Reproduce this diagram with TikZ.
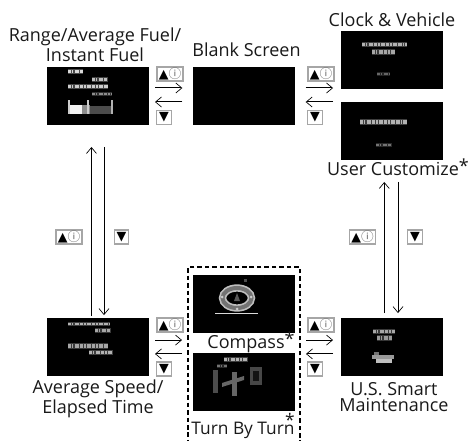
\documentclass[tikz,border=0pt]{standalone}
\usepackage{fontspec}
\usepackage{tikz}
\usetikzlibrary{arrows.meta}
\setmainfont{Open Sans}
\newfontfamily\symfont{DejaVu Sans}
\newfontfamily\infofont{Noto Sans CJK JP}
\tikzset{
  screen/.style={fill=black, minimum width=76.5pt, minimum height=43.5pt, inner sep=0pt, outer sep=0pt},
  caption/.style={font=\fontsize{13.5}{15}\selectfont, align=center, inner sep=0pt, text=black!90},
  keybox/.style={draw=black!35, line width=0.8pt, fill=white, inner sep=0pt, minimum height=10.5pt, font=\symfont\fontsize{9.5}{10}\selectfont},
  upkey/.style={keybox, minimum width=19.5pt},
  downkey/.style={keybox, minimum width=11pt},
  flow/.style={line width=0.75pt, -{Straight Barb[length=4.5pt,width=7.5pt,line width=0.5pt]}},
  flowdash/.style={draw, line width=1.2pt, dash pattern=on 3.4pt off 2.2pt, minimum width=84pt, minimum height=133.5pt, inner sep=0pt, outer sep=0pt}
}
\newcommand{\blips}[1]{\foreach \bx/\by/\bw/\bh/\bg in {#1} {
  \draw[white!\bg!black, opacity=0.35, line width=\bh*0.75pt+0.9pt] (\bx,\by+\bh/2) -- ++(\bw,0);
  \draw[white!\bg!black, line width=\bh*0.75pt, dash pattern=on 2.4pt off 0.7pt on 1pt off 1pt on 3.2pt off 0.8pt] (\bx,\by+\bh/2) -- ++(\bw,0);
}}
\newcommand{\bars}[1]{\foreach \bx/\by/\bw/\bh/\bg in {#1} \fill[white!\bg!black] (\bx,\by) rectangle ++(\bw,\bh);}
\newcommand{\upglyphs}{▲{\infofont\color{black!60}ⓘ}}
\begin{document}
\begin{tikzpicture}[x=0.75pt, y=-0.75pt]
\useasboundingbox (0,0) rectangle (470,441);

\foreach \name/\sx/\sy in {range/98/96, blank/244/96, clock/392/60, user/392/131, avgspeed/98/347, compass/244/304, turn/244/382, smart/392/347}
  \node[screen] (\name) at (\sx,\sy) {};

\node[flowdash] (navbox) at (244,356) {};

\blips{68/70/15/3/85, 92/78/16/3/75, 68/85/40/3/80, 92/93/20/2/55}
\bars{68/105/14/9/95, 68/100/2/14/80, 82/105/8/9/55, 90/106/23/8/30, 87/100/2/14/80, 111/100/2/14/70}
\blips{362/43/45/3/70, 372/50/23/4/65, 377/73/13/2/40}
\blips{360/120/47/4/70, 376/144/16/2/45}
\blips{68/323/42/2/70, 95/329/16/3/65, 68/344/40/4/65, 89/351/24/3/70}
\blips{373/330/22/3/65, 377/336/15/4/60}
\bars{372/355/22/4/60, 376/359/16/4/75, 374/352/5/3/45}
\blips{224/358/24/3/70, 217/365/10/2/45}
\bars{213/370/5/23/30, 232/372/5/24/40, 250/367/12/18/28, 253/371/6/10/8}
\fill[black!60] (222,383) -- (244,376) -- (244,380) -- (222,387) -- cycle;

\draw[black!25, line width=5.5pt] (237,298) ellipse (14.5 and 10);
\draw[black!55, line width=3pt] (237,298) ellipse (14.5 and 10);
\draw[black!15, line width=0.75pt] (215,313) -- (258,313);
\fill[white!80!black] (222,297) circle (1.5);
\fill[white!80!black] (251,297) circle (1.5);
\fill[white!80!black] (237,309) circle (1.5);
\fill[black!65] (237,293) -- (240,301) -- (234,301) -- cycle;
\fill[black!70] (244,279) rectangle ++(3,3);

\node[caption] (rangetxt) at (95,45) {Range/Average Fuel/\\Instant Fuel};
\node[caption] (blanktxt) at (246.5,50) {Blank Screen};
\node[caption] (clocktxt) at (392,20) {Clock \& Vehicle};
\node[caption] (usertxt) at (398,167.5) {User Customize\raisebox{2pt}{*}};
\node[caption] (avgtxt) at (98,399) {Average Speed/\\Elapsed Time};
\node[caption, font=\fontsize{13.5}{12}\selectfont] (smarttxt) at (394,397) {U.S. Smart\\Maintenance};
\node[caption] (compasstxt) at (251,342) {Compass\raisebox{2pt}{*}};
\node[caption, font=\fontsize{13}{15}\selectfont, anchor=base] (turntxt) at (243,434) {Turn By Turn\llap{\raisebox{5.6pt}{*}}};

\node[upkey] (k1) at (170,74) {\upglyphs};
\node[downkey] (k2) at (164,117.5) {▼};
\node[upkey] (k3) at (321,74) {\upglyphs};
\node[downkey] (k4) at (315,117.5) {▼};
\node[upkey] (k5) at (69,237) {\upglyphs};
\node[downkey] (k6) at (121.5,237) {▼};
\node[upkey] (k7) at (362.5,237) {\upglyphs};
\node[downkey] (k8) at (415,237) {▼};
\node[upkey] (k9) at (170,325) {\upglyphs};
\node[downkey] (k10) at (164,369) {▼};
\node[upkey] (k11) at (321,325) {\upglyphs};
\node[downkey] (k12) at (315,369) {▼};

\draw[flow, shorten <=4.5pt, shorten >=8pt] ([yshift=6pt]range.east) -- ([yshift=6pt]blank.west);
\draw[flow, shorten <=8pt, shorten >=4.5pt] ([yshift=-4.5pt]blank.west) -- ([yshift=-4.5pt]range.east);
\draw[flow, shorten <=8pt, shorten >=6pt] ([yshift=6pt]blank.east) -- ([yshift=6pt]blank.east -| clock.west);
\draw[flow, shorten <=6pt, shorten >=8pt] ([yshift=-4.5pt]blank.east -| clock.west) -- ([yshift=-4.5pt]blank.east);

\draw[flow, shorten <=1.5pt, shorten >=16.5pt] ([xshift=-4.9pt]avgspeed.north) -- ([xshift=-4.9pt]range.south);
\draw[flow, shorten <=16.5pt, shorten >=2.2pt] ([xshift=4.5pt]range.south) -- ([xshift=4.5pt]avgspeed.north);
\draw[flow, shorten <=3.7pt, shorten >=16.5pt] ([xshift=-5.8pt]smart.north) -- ([xshift=-5.8pt]user.south);
\draw[flow, shorten <=16.5pt, shorten >=3.7pt] ([xshift=4.5pt]user.south) -- ([xshift=4.5pt]smart.north);

\draw[flow, shorten <=4.5pt, shorten >=4.5pt] ([yshift=5.2pt]avgspeed.east) -- ([yshift=5.2pt]avgspeed.east -| navbox.west);
\draw[flow, shorten <=4.5pt, shorten >=4.5pt] ([yshift=-5.2pt]avgspeed.east -| navbox.west) -- ([yshift=-5.2pt]avgspeed.east);
\draw[flow, shorten <=4.5pt, shorten >=6pt] ([yshift=5.2pt]navbox.east |- smart.west) -- ([yshift=5.2pt]smart.west);
\draw[flow, shorten <=6pt, shorten >=4.5pt] ([yshift=-5.2pt]smart.west) -- ([yshift=-5.2pt]navbox.east |- smart.west);
\end{tikzpicture}
\end{document}
